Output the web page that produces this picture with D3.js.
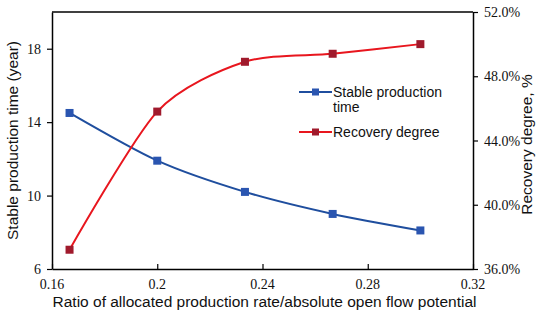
<!DOCTYPE html>
<html>
<head>
<meta charset="utf-8">
<script src="https://cdn.jsdelivr.net/npm/d3@7"></script>
<style>
  body { margin: 0; background: #fff; }
</style>
</head>
<body>
<div id="chart"></div>
<script>
// data
var ratios = [1/6, 0.2, 0.7/3, 0.8/3, 0.3];
var stableTime = [14.5, 11.9, 10.2, 9.0, 8.1];          // years
var recovery = [37.2, 45.8, 48.9, 49.4, 50.0];          // %
var xTicks = [0.16, 0.2, 0.24, 0.28, 0.32];
var yLeftTicks = [6, 10, 14, 18];
var yRightTicks = [36, 40, 44, 48, 52];

var W = 550, H = 322;
var m = {left: 52, right: 77, top: 12, bottom: 53};
var serif = 'Liberation Serif, Times New Roman, serif';
var sans = 'Liberation Sans, Arial, sans-serif';

var svg = d3.select('#chart').append('svg')
    .attr('width', W).attr('height', H);

var x = d3.scaleLinear().domain([0.16, 0.32]).range([m.left, W - m.right]);
var yL = d3.scaleLinear().domain([6, 20]).range([H - m.bottom, m.top]);
var yR = d3.scaleLinear().domain([36, 52]).range([H - m.bottom, m.top]);

// frame top line
svg.append('line')
    .attr('x1', m.left).attr('x2', W - m.right)
    .attr('y1', m.top).attr('y2', m.top)
    .attr('stroke', '#000').attr('stroke-width', 1.5);

var gx = svg.append('g').attr('transform', 'translate(0,' + (H - m.bottom) + ')')
    .call(d3.axisBottom(x).tickValues(xTicks).tickFormat('').tickSizeInner(-5).tickSizeOuter(0));
var gl = svg.append('g').attr('transform', 'translate(' + m.left + ',0)')
    .call(d3.axisLeft(yL).tickValues(yLeftTicks).tickFormat('').tickSizeInner(5).tickSizeOuter(0));
var gr = svg.append('g').attr('transform', 'translate(' + (W - m.right) + ',0)')
    .call(d3.axisRight(yR).tickValues(yRightTicks).tickFormat('').tickSizeInner(5).tickSizeOuter(0));

[gx, gl, gr].forEach(function(g){
    g.select('.domain').attr('stroke', '#000').attr('stroke-width', 1.5);
    g.selectAll('.tick line').attr('stroke', '#000').attr('stroke-width', 1.2);
});

// tick labels in serif
var labels = svg.append('g').attr('font-family', serif).attr('font-size', 14).attr('fill', '#111');
labels.selectAll('.xl').data(xTicks).enter().append('text')
    .attr('x', function(d){ return x(d); }).attr('y', H - m.bottom + 20)
    .attr('text-anchor', 'middle').text(function(d){ return String(+d.toFixed(2)); });
labels.selectAll('.yl').data(yLeftTicks).enter().append('text')
    .attr('x', m.left - 11).attr('y', function(d){ return yL(d) + 5; })
    .attr('text-anchor', 'end').text(function(d){ return d; });
labels.selectAll('.yr').data(yRightTicks).enter().append('text')
    .attr('x', W - m.right + 11).attr('y', function(d){ return yR(d) + 5; })
    .attr('text-anchor', 'start').text(function(d){ return d.toFixed(1) + '%'; });

var blue = '#1f4e9e', blueMk = '#2a55b0';
var red = '#e8161e', redMk = '#a01a2c';

var lineL = d3.line().curve(d3.curveCardinal.tension(0.2))
    .x(function(d){ return x(d[0]); }).y(function(d){ return yL(d[1]); });
var lineR = d3.line().curve(d3.curveCardinal.tension(0.2))
    .x(function(d){ return x(d[0]); }).y(function(d){ return yR(d[1]); });

var blueData = d3.zip(ratios, stableTime);
var redData = d3.zip(ratios, recovery);

svg.append('path').datum(blueData).attr('d', lineL)
    .attr('fill', 'none').attr('stroke', blue).attr('stroke-width', 2);
svg.append('path').datum(redData).attr('d', lineR)
    .attr('fill', 'none').attr('stroke', red).attr('stroke-width', 2);

var mk = 8;
svg.selectAll('.mb').data(blueData).enter().append('rect')
    .attr('x', function(d){ return x(d[0]) - mk/2; })
    .attr('y', function(d){ return yL(d[1]) - mk/2; })
    .attr('width', mk).attr('height', mk).attr('fill', blueMk);
svg.selectAll('.mr').data(redData).enter().append('rect')
    .attr('x', function(d){ return x(d[0]) - mk/2; })
    .attr('y', function(d){ return yR(d[1]) - mk/2; })
    .attr('width', mk).attr('height', mk).attr('fill', redMk);

// legend
var leg = svg.append('g').attr('font-family', sans)
    .attr('font-size', 14).attr('fill', '#111');
var items = [
    {lines: ['Stable production', 'time'], c: blue, mc: blueMk, y: 92},
    {lines: ['Recovery degree'], c: red, mc: redMk, y: 132}
];
items.forEach(function(it){
    leg.append('line').attr('x1', 299).attr('x2', 332).attr('y1', it.y).attr('y2', it.y)
        .attr('stroke', it.c).attr('stroke-width', 2);
    leg.append('rect').attr('x', 315.5 - 3.5).attr('y', it.y - 3.5).attr('width', 7).attr('height', 7).attr('fill', it.mc);
    it.lines.forEach(function(t, i){
        leg.append('text').attr('x', 333).attr('y', it.y + 5 + i * 15).text(t);
    });
});

// axis titles
function title(sel) {
    return sel.attr('text-anchor', 'middle')
        .attr('font-family', sans)
        .attr('font-size', 15.5).attr('fill', '#111');
}
title(svg.append('text').attr('x', (m.left + W - m.right) / 2 + 2).attr('y', 307))
    .text('Ratio of allocated production rate/absolute open flow potential');
title(svg.append('text').attr('transform', 'translate(18,' + ((m.top + H - m.bottom) / 2) + ') rotate(-90)'))
    .text('Stable production time (year)');
title(svg.append('text').attr('transform', 'translate(532,' + ((m.top + H - m.bottom) / 2 + 4) + ') rotate(-90)'))
    .text('Recovery degree, %');
</script>
</body>
</html>
